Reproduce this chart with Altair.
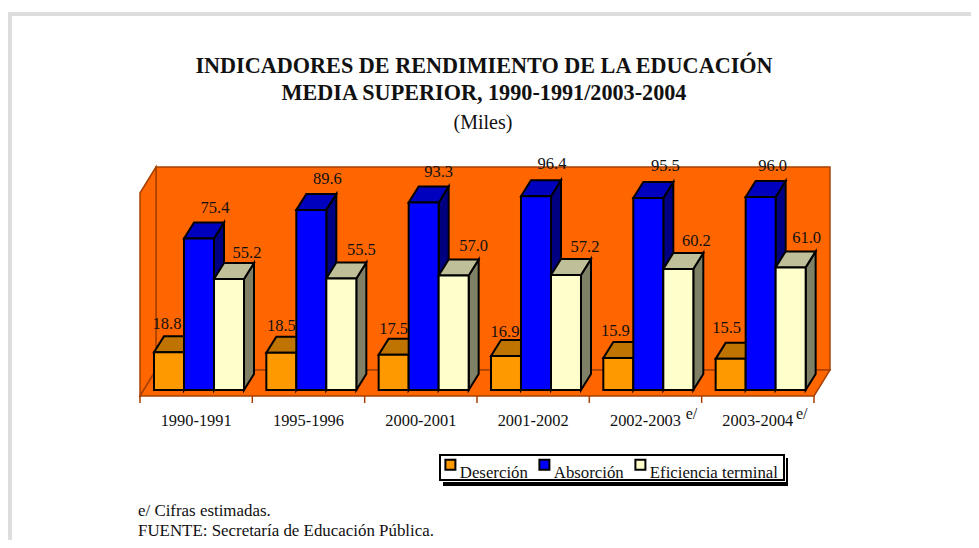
import altair as alt
import pandas as pd

# ---- chart values ----
PERIODS = ["1990-1991", "1995-1996", "2000-2001", "2001-2002", "2002-2003", "2003-2004"]
DESERCION = [18.8, 18.5, 17.5, 16.9, 15.9, 15.5]
ABSORCION = [75.4, 89.6, 93.3, 96.4, 95.5, 96.0]
EFICIENCIA = [55.2, 55.5, 57.0, 57.2, 60.2, 61.0]
SERIES = ["Deserción", "Absorción", "Eficiencia terminal"]
FRONT = ["#FF9900", "#0000FF", "#FFFFCC"]
TOP = ["#BF7300", "#0000BF", "#BFBF99"]
SIDE = ["#804D00", "#000080", "#808066"]
ESTIMATED = ["2002-2003", "2003-2004"]

# ---- layout (pixels of the chart area) ----
W, H = 963, 532
X0, Y0 = 132, 382          # left end of the floor's front edge; y of value 0
PITCH = 112.33
GAP = 14
BAR = 30
DX, DY = 10, 16            # bar depth
WALL_DX, WALL_DY = 16, 26  # room depth
PX = 2.01                  # pixels per value unit
FLOOR_DROP = 6
WALL_H = 203
BAR_EDGE = 2
# label nudges for each series / period (dx, dy), as the original placed them
NUDGE_X = [[-2, 0, 0, -1, -3, -4], [16, 16, 15, 16, 17, 12], [18, 20, 20, 19, 18, 16]]
NUDGE_Y = [[12, 11, 10, 8, 11, 15], [14, 15, 14, 16, 16, 15], [10, 12, 13, 12, 12, 13]]
EST_DX = [-16, -18]

xscale = alt.Scale(domain=[-X0, W - X0], range=[0, W], nice=False, zero=False)
yscale = alt.Scale(domain=[(Y0 - H) / PX, Y0 / PX], range=[H, 0], nice=False, zero=False)
colorscale = alt.Scale(domain=SERIES, range=FRONT)


def v(px):
    return px / PX


def X(f="x"):
    return alt.X(f"{f}:Q", scale=xscale, axis=None)


def Y(f="y"):
    return alt.Y(f"{f}:Q", scale=yscale, axis=None)


def poly(rows, fill, stroke, sw):
    return alt.Chart(pd.DataFrame(rows)).mark_area(
        fill=fill, stroke=stroke, strokeWidth=sw, orient="vertical", interpolate="linear", opacity=1
    ).encode(x=X(), y=Y(), y2=alt.Y2("y2:Q"), detail="id:N")


def top_rows(fid, x, w, d, val, dv):
    return [
        dict(id=fid, x=x, y=val, y2=val),
        dict(id=fid, x=x + d, y=val + dv, y2=val),
        dict(id=fid, x=x + w, y=val + dv, y2=val),
        dict(id=fid, x=x + w + d, y=val + dv, y2=val + dv),
    ]


def side_rows(fid, x, d, val, dv):
    return [
        dict(id=fid, x=x, y=val, y2=0),
        dict(id=fid, x=x + d, y=val + dv, y2=dv),
    ]


def box(color, x, x2, y, y2, **kw):
    return alt.Chart(frame).mark_rect(color=color, **kw).encode(
        x=alt.value(x), x2=alt.value(x2), y=alt.value(y), y2=alt.value(y2))


WALL = "#FF6600"
EDGE = "#A84000"
room_w = PITCH * len(PERIODS)
floor_v = v(-FLOOR_DROP)
wall_dv = v(WALL_DY)
wall_top = floor_v + v(WALL_H)

layers = []
# grey page frame
frame = pd.DataFrame({"a": [0]})
layers.append(box("#DDDDDD", 0, 4, 4, H))
layers.append(box("#DDDDDD", 0, W, 4, 8))

# room: back wall, left wall, floor
layers.append(alt.Chart(pd.DataFrame([dict(x=WALL_DX, x2=WALL_DX + room_w, y=floor_v + wall_dv, y2=wall_top + wall_dv)]))
              .mark_rect(fill=WALL, stroke=EDGE, strokeWidth=1.5)
              .encode(x=X(), x2="x2:Q", y=Y(), y2="y2:Q"))
layers.append(poly([dict(id="l", x=0, y=wall_top, y2=floor_v),
                    dict(id="l", x=WALL_DX, y=wall_top + wall_dv, y2=floor_v + wall_dv)], WALL, EDGE, 1.5))
layers.append(poly(top_rows("f", 0, room_w, WALL_DX, floor_v, wall_dv), WALL, EDGE, 1.5))

# ticks
ticks = pd.DataFrame({"x": [PITCH * i for i in range(len(PERIODS) + 1)], "y": floor_v, "y2": floor_v - v(7)})
layers.append(alt.Chart(ticks).mark_rule(color=EDGE, strokeWidth=1.5).encode(x=X(), y=Y(), y2="y2:Q"))

legend = alt.Legend(
    title=None, orient="none", legendX=430, legendY=444, direction="horizontal",
    symbolType="square", symbolSize=100, symbolStrokeColor="black", symbolStrokeWidth=2,
    labelFont="Liberation Serif", labelFontSize=16.8, labelColor="#111111", labelBaseline="top",
    labelOffset=1, columnPadding=7, padding=4,
    labelLimit=300, symbolOpacity=1,
)

# legend box: offset shadow, white gap, framed box
layers.append(box("black", 435, 780, 450, 478))
layers.append(box("white", 430, 778, 445, 474))
layers.append(box("white", 432, 776, 447, 472, stroke="black", strokeWidth=2))

# bars, series by series so that each one covers the side of the previous one
for s, (name, vals) in enumerate(zip(SERIES, [DESERCION, ABSORCION, EFICIENCIA])):
    tops, sides, fronts = [], [], []
    for i, (p, val) in enumerate(zip(PERIODS, vals)):
        x = PITCH * i + GAP + BAR * s
        tops += top_rows(f"t{i}", x, BAR, DX, val, v(DY))
        sides += side_rows(f"s{i}", x + BAR, DX, val, v(DY))
        fronts.append(dict(x=x, x2=x + BAR, y=val, y2=0, serie=name))
    layers.append(poly(sides, SIDE[s], "black", BAR_EDGE))
    layers.append(poly(tops, TOP[s], "black", BAR_EDGE))
    layers.append(alt.Chart(pd.DataFrame(fronts)).mark_rect(stroke="black", strokeWidth=BAR_EDGE).encode(
        x=X(), x2="x2:Q", y=Y(), y2="y2:Q",
        fill=alt.Fill("serie:N", scale=colorscale, legend=legend)))

# value labels
labels = []
for s, vals in enumerate([DESERCION, ABSORCION, EFICIENCIA]):
    for i, val in enumerate(vals):
        labels.append(dict(
            x=PITCH * i + GAP + BAR * s + BAR / 2 + NUDGE_X[s][i],
            y=val + v(DY + NUDGE_Y[s][i]),
            t=f"{val:.1f}"))
layers.append(alt.Chart(pd.DataFrame(labels)).mark_text(
    font="Liberation Serif", fontSize=16.5, color="#111111", align="center", baseline="middle"
).encode(x=X(), y=Y(), text="t:N"))

# period labels
cats = pd.DataFrame({"x": [PITCH * (i + .5) for i in range(len(PERIODS))], "t": PERIODS, "y": v(382 - 413)})
layers.append(alt.Chart(cats).mark_text(
    font="Liberation Serif", fontSize=16.4, color="#111111", align="center", baseline="middle"
).encode(x=X(), y=Y(), text="t:N"))
est = pd.DataFrame({"x": [PITCH * (PERIODS.index(p) + 1) + d for p, d in zip(ESTIMATED, EST_DX)],
                    "y": v(382 - 406), "t": "e/"})
layers.append(alt.Chart(est).mark_text(
    font="Liberation Serif", fontSize=16, color="#111111", align="left", baseline="middle"
).encode(x=X(), y=Y(), text="t:N"))


def page_text(text, x, y, size, weight="normal", align="center"):
    return alt.Chart(pd.DataFrame({"t": [text]})).mark_text(
        font="Liberation Serif", fontSize=size, fontWeight=weight, color="#111111", align=align, baseline="middle"
    ).encode(x=alt.value(x), y=alt.value(y), text="t:N")


layers += [
    page_text("INDICADORES DE RENDIMIENTO DE LA EDUCACIÓN", 476, 58, 22.2, "bold"),
    page_text("MEDIA SUPERIOR, 1990-1991/2003-2004", 476, 85, 22.2, "bold"),
    page_text("(Miles)", 475, 115, 20),
    page_text("e/ Cifras estimadas.", 130, 503, 16.9, align="left"),
    page_text("FUENTE: Secretaría de Educación Pública.", 130, 523, 16.9, align="left"),
]

chart = alt.layer(*layers).resolve_scale(fill="shared").properties(
    width=W, height=H, padding=0, autosize="none", background="white"
).configure_view(stroke=None)

chart.save("out.html", embed_options={"renderer": "svg", "actions": False})
